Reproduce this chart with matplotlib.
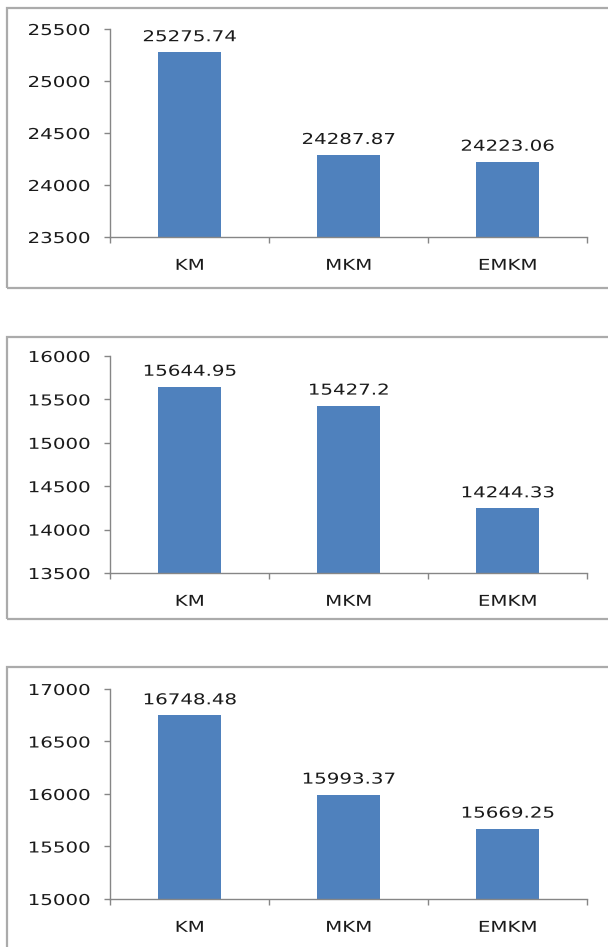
import matplotlib
matplotlib.use("Agg")
import matplotlib.pyplot as plt
import matplotlib.patheffects as pe
from matplotlib.transforms import Affine2D
from matplotlib.patches import Rectangle
from matplotlib.ticker import FixedLocator

categories = ["KM", "MKM", "EMKM"]
values_1 = [25275.74, 24287.87, 24223.06]
values_2 = [15644.95, 15427.2, 14244.33]
values_3 = [16748.48, 15993.37, 15669.25]
yticks_1 = [23500, 24000, 24500, 25000, 25500]
yticks_2 = [13500, 14000, 14500, 15000, 15500, 16000]
yticks_3 = [15000, 15500, 16000, 16500, 17000]

W, H = 608, 947
BAR_COLOR = "#4F81BD"
AXIS_COLOR = "#868686"
BORDER_COLOR = "#ABABAB"
TEXT_COLOR = "#1a1a1a"
FS = 10.8
SX = 1.32


class HStretch(pe.AbstractPathEffect):
    """Stretch glyphs horizontally about an anchor (mimics the wide text)."""

    def __init__(self, sx, anchor="center"):
        super().__init__()
        self.sx = sx
        self.anchor = anchor

    def draw_path(self, renderer, gc, tpath, affine, rgbFace=None):
        v = tpath.vertices
        if len(v):
            xmin, xmax = v[:, 0].min(), v[:, 0].max()
        else:
            xmin = xmax = 0.0
        c = {"center": (xmin + xmax) / 2, "right": xmax, "left": xmin}[self.anchor]
        t = Affine2D().translate(-c, 0).scale(self.sx, 1).translate(c, 0) + affine
        renderer.draw_path(gc, tpath, t, rgbFace)


fig = plt.figure(figsize=(W / 100, H / 100), dpi=100)
fig.patch.set_facecolor("white")

# (axes top px, axes bottom px, border top px, border bottom px)
panels = [
    (values_1, yticks_1, 29, 237, 8, 288),
    (values_2, yticks_2, 356, 573, 337, 619),
    (values_3, yticks_3, 689, 899, 667, 960),
]
ax_left, ax_right = 110, 587

for vals, yt, top, bot, btop, bbot in panels:
    # outer chart border (right and last bottom edge lie outside the picture)
    rect = Rectangle((7 / W, 1 - bbot / H), (660 - 7) / W, (bbot - btop) / H,
                     transform=fig.transFigure, fill=False,
                     edgecolor=BORDER_COLOR, linewidth=1.6, clip_on=False)
    fig.patches.append(rect)

    ax = fig.add_axes([ax_left / W, 1 - bot / H, (ax_right - ax_left) / W, (bot - top) / H])
    x = list(range(len(categories)))
    ax.bar(x, vals, width=0.4, color=BAR_COLOR, zorder=2)
    ax.set_xlim(-0.5, len(categories) - 0.5)
    ax.set_ylim(yt[0], yt[-1])
    ax.set_yticks(yt)
    ax.set_yticklabels([str(t) for t in yt])
    ax.set_xticks(x)
    ax.set_xticklabels(categories)
    ax.xaxis.set_minor_locator(FixedLocator([i - 0.5 for i in range(len(categories) + 1)]))

    for s in ["top", "right"]:
        ax.spines[s].set_visible(False)
    for s in ["left", "bottom"]:
        ax.spines[s].set_color(AXIS_COLOR)
        ax.spines[s].set_linewidth(1.0)

    ax.tick_params(axis="y", direction="out", length=4.3, width=1.0,
                   color=AXIS_COLOR, pad=10, labelsize=FS, labelcolor=TEXT_COLOR)
    ax.tick_params(axis="x", which="major", length=0, pad=15,
                   labelsize=FS, labelcolor=TEXT_COLOR)
    ax.tick_params(axis="x", which="minor", direction="out", length=4.3,
                   width=1.0, color=AXIS_COLOR)

    for lbl in ax.get_yticklabels():
        lbl.set_path_effects([HStretch(SX, "right")])
    for lbl in ax.get_xticklabels():
        lbl.set_path_effects([HStretch(SX, "center")])

    for xi, v in zip(x, vals):
        ax.annotate(str(v), (xi, v), xytext=(0, 8), textcoords="offset points",
                    ha="center", va="baseline", fontsize=FS, color=TEXT_COLOR,
                    path_effects=[HStretch(SX, "center")])

fig.savefig("out.png", dpi=100, facecolor="white")
